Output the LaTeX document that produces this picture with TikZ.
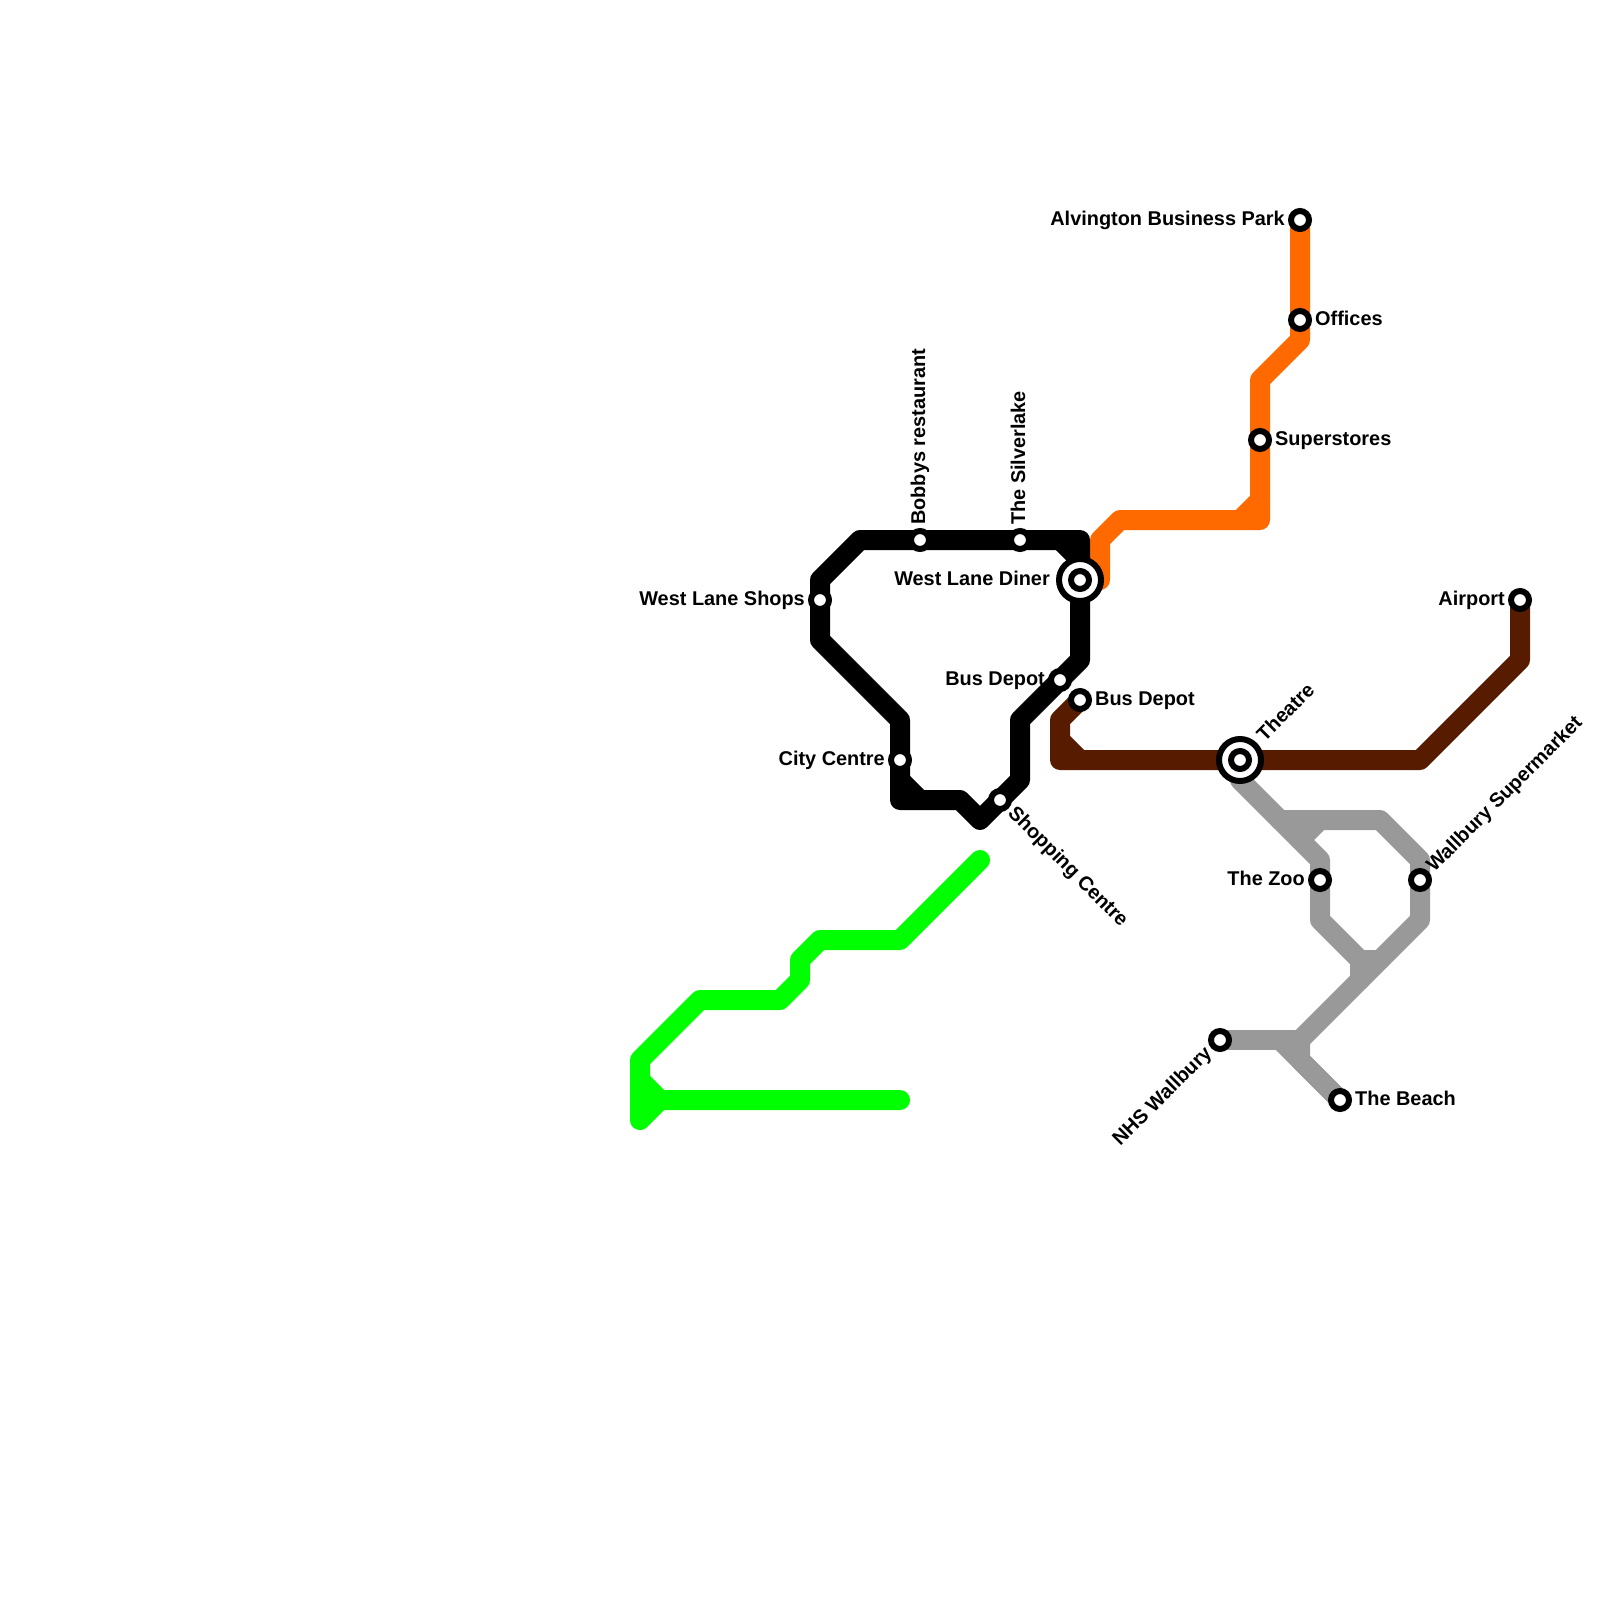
\documentclass[tikz,border=0pt]{standalone}
\usepackage{fontspec}
\setmainfont{Liberation Sans}
\usepackage{xcolor}
\usetikzlibrary{positioning,backgrounds}
\definecolor{corpreto}{RGB}{0,0,0}
\definecolor{corlaranja}{RGB}{255,106,0}
\definecolor{cormarrom}{RGB}{87,28,0}
\definecolor{corcinza}{RGB}{153,153,153}
\definecolor{corverde}{RGB}{0,255,0}

\begin{document}
\begin{tikzpicture}[
  x=1pt, y=-1pt,
  linha/.style={line width=20pt, line cap=round, line join=round},
  estacao/.style={circle, draw=black, fill=white, line width=6pt, minimum size=18pt, inner sep=0pt},
  anel/.style={circle, draw=black, fill=white, line width=6pt, minimum size=42pt, inner sep=0pt},
  rotulo/.style={font=\fontsize{19.9}{24}\selectfont\bfseries, text height=14pt, text depth=0pt, inner sep=0pt},
  rotdir/.style={rotulo, anchor=west, rotate=#1, xshift=15pt, yshift=2pt},
  rotdir/.default=0,
  rotesq/.style={rotulo, anchor=east, rotate=#1, xshift=-15pt, yshift=2pt},
  rotesq/.default=0
]
  \useasboundingbox (0,0) rectangle (1600,1600);

  % curvas das linhas
  \foreach \nome/\x/\y in {
    la1/1300/340, la2/1260/380, la3/1260/500, la4/1240/520, la5/1260/520, la6/1120/520, la7/1100/540, la8/1100/580,
    pr1/1080/540, pr2/860/540, pr3/820/580, pr4/820/640, pr5/900/720, pr6/900/800, pr7/960/800, pr8/980/820,
    pr9/1020/780, pr10/1020/720, pr11/1080/660, pr12/1060/540, pr13/900/780, pr14/920/800, pr15/1080/560,
    ma1/1060/720, ma2/1060/760, ma3/1420/760, ma4/1520/660, ma5/1060/740, ma6/1080/760,
    ci1/1240/780, ci2/1320/860, ci3/1320/920, ci4/1360/960, ci5/1360/980, ci6/1380/960,
    ci7/1300/840, ci8/1320/820, ci9/1380/820, ci10/1420/860, ci11/1420/920, ci12/1300/1040,
    ci13/1300/1060, ci14/1280/1040, ci15/1280/820,
    ve1/980/860, ve2/900/940, ve3/820/940, ve4/800/960, ve5/800/980, ve6/780/1000, ve7/700/1000,
    ve8/640/1060, ve9/640/1120, ve10/660/1100, ve11/900/1100, ve12/640/1080}
    \coordinate (\nome) at (\x,\y);

  % estacoes
  \node[anel] (anelDiner) at (1080,580) {};
  \node[anel] (anelTheatre) at (1240,760) {};
  \foreach \nome/\x/\y in {
    alvington/1300/220, offices/1300/320, superstores/1260/440, bobbys/920/540, silverlake/1020/540,
    diner/1080/580, shops/820/600, airport/1520/600, depotA/1060/680, depotB/1080/700, centre/900/760,
    theatre/1240/760, shopping/1000/800, zoo/1320/880, wallbury/1420/880, nhs/1220/1040, beach/1340/1100}
    \node[estacao] (\nome) at (\x,\y) {};

  \begin{scope}[on background layer]
    \draw[linha, corlaranja] (alvington.center) -- (offices.center) -- (la1) -- (la2) -- (superstores.center) -- (la5) -- (la6) -- (la7) -- (la8) -- (diner.center);
    \draw[linha, corlaranja] (la3) -- (la4);

    \draw[linha, corpreto] (diner.center) -- (pr1) -- (silverlake.center) -- (bobbys.center) -- (pr2) -- (pr3) -- (shops.center) -- (pr4) -- (pr5) -- (centre.center) -- (pr6) -- (pr7) -- (pr8) -- (shopping.center) -- (pr9) -- (pr10) -- (depotA.center) -- (pr11) -- (diner.center);
    \draw[linha, corpreto] (pr12) -- (pr15);
    \draw[linha, corpreto] (pr13) -- (pr14);

    \draw[linha, cormarrom] (depotB.center) -- (ma1) -- (ma2) -- (theatre.center) -- (ma3) -- (ma4) -- (airport.center);
    \draw[linha, cormarrom] (ma5) -- (ma6);

    \draw[linha, corcinza] (theatre.center) -- (ci1) -- (ci2) -- (zoo.center) -- (ci3) -- (ci4) -- (ci5);
    \draw[linha, corcinza] (ci4) -- (ci6);
    \draw[linha, corcinza] (ci7) -- (ci8) -- (ci9) -- (ci10) -- (wallbury.center) -- (ci11) -- (ci12) -- (ci13) -- (beach.center);
    \draw[linha, corcinza] (ci15) -- (ci8);
    \draw[linha, corcinza] (nhs.center) -- (ci12);
    \draw[linha, corcinza] (ci14) -- (beach.center);

    \draw[linha, corverde] (ve1) -- (ve2) -- (ve3) -- (ve4) -- (ve5) -- (ve6) -- (ve7) -- (ve8) -- (ve9) -- (ve10) -- (ve11);
    \draw[linha, corverde] (ve12) -- (ve10);
  \end{scope}

  \node[rotesq] (txtAlvington) at (alvington) {Alvington Business Park};
  \node[rotdir] (txtOffices) at (offices) {Offices};
  \node[rotdir] (txtSuperstores) at (superstores) {Superstores};
  \node[rotdir=90] (txtBobbys) at (bobbys) {Bobbys restaurant};
  \node[rotdir=90] (txtSilverlake) at (silverlake) {The Silverlake};
  \node[rotesq, xshift=-15pt] (txtDiner) at (diner) {West Lane Diner};
  \node[rotesq] (txtShops) at (shops) {West Lane Shops};
  \node[rotesq] (txtAirport) at (airport) {Airport};
  \node[rotesq] (txtDepotA) at (depotA) {Bus Depot};
  \node[rotdir] (txtDepotB) at (depotB) {Bus Depot};
  \node[rotesq] (txtCentre) at (centre) {City Centre};
  \node[rotdir=45, xshift=15pt] (txtTheatre) at (theatre) {Theatre};
  \node[rotdir=-45] (txtShopping) at (shopping) {Shopping Centre};
  \node[rotesq] (txtZoo) at (zoo) {The Zoo};
  \node[rotdir=45] (txtWallbury) at (wallbury) {Wallbury Supermarket};
  \node[rotesq=45] (txtNhs) at (nhs) {NHS Wallbury};
  \node[rotdir] (txtBeach) at (beach) {The Beach};
\end{tikzpicture}
\end{document}
